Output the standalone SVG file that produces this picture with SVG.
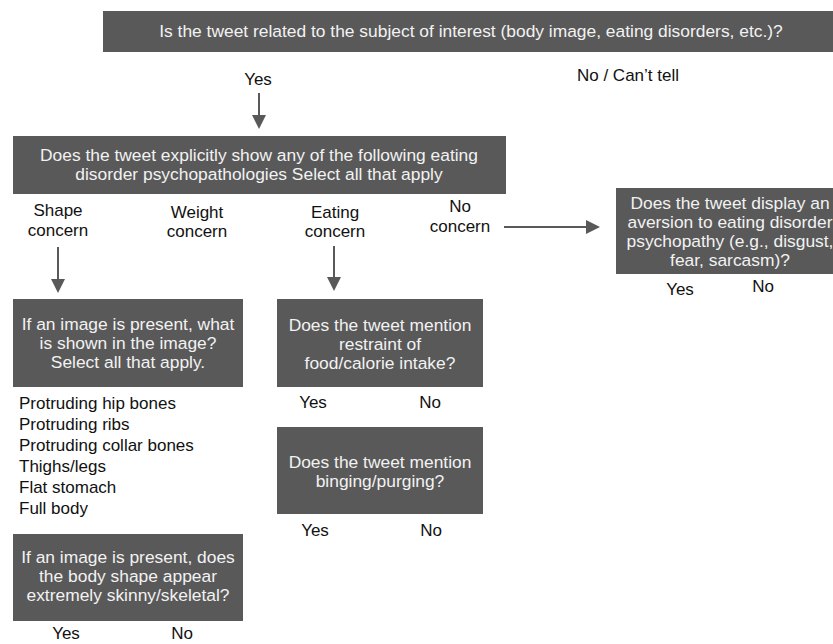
<svg xmlns="http://www.w3.org/2000/svg" width="833" height="644" viewBox="0 0 833 644">
<style>
.box{fill:#595959}
.bt{font-family:"Liberation Sans",Arial,sans-serif;font-size:17.4px;fill:#f2f2f2;text-anchor:middle}
.lt{font-family:"Liberation Sans",Arial,sans-serif;font-size:17px;fill:#111;text-anchor:middle}
.ll{font-family:"Liberation Sans",Arial,sans-serif;font-size:17px;fill:#111}
.ar{stroke:#595959;stroke-width:2;fill:none;marker-end:url(#ah)}
</style>
<defs>
<marker id="ah" markerWidth="7" markerHeight="7" refX="3" refY="3.5" orient="auto" markerUnits="strokeWidth">
<path d="M0,0 L7,3.5 L0,7 Z" fill="#595959"/>
</marker>
</defs>
<rect width="833" height="644" fill="#fff"/>
<g id="q1">
<rect class="box" x="103" y="11" width="740" height="41"/>
<text class="bt" x="471" y="37">Is the tweet related to the subject of interest (body image, eating disorders, etc.)?</text>
<text class="lt" x="258" y="85">Yes</text>
<text class="lt" x="628" y="81">No / Can’t tell</text>
</g>
<g id="q2">
<rect class="box" x="13" y="136" width="493" height="58"/>
<text class="bt" x="259" y="161">Does the tweet explicitly show any of the following eating</text>
<text class="bt" x="259" y="180">disorder psychopathologies Select all that apply</text>
<text class="lt" x="58" y="216">Shape</text>
<text class="lt" x="58" y="236">concern</text>
<text class="lt" x="197" y="218">Weight</text>
<text class="lt" x="197" y="237">concern</text>
<text class="lt" x="335" y="218">Eating</text>
<text class="lt" x="335" y="237">concern</text>
<text class="lt" x="460" y="212">No</text>
<text class="lt" x="460" y="232">concern</text>
</g>
<g id="q3">
<rect class="box" x="616" y="188" width="230" height="86"/>
<text class="bt" x="730" y="209">Does the tweet display an</text>
<text class="bt" x="730" y="228">aversion to eating disorder</text>
<text class="bt" x="730" y="247">psychopathy (e.g., disgust,</text>
<text class="bt" x="730" y="266">fear, sarcasm)?</text>
<text class="lt" x="680" y="295">Yes</text>
<text class="lt" x="763" y="292">No</text>
</g>
<g id="q4">
<rect class="box" x="13" y="299" width="230" height="88"/>
<text class="bt" x="128" y="330">If an image is present, what</text>
<text class="bt" x="128" y="349">is shown in the image?</text>
<text class="bt" x="128" y="368">Select all that apply.</text>
<text class="ll" x="19" y="409">Protruding hip bones</text>
<text class="ll" x="19" y="430">Protruding ribs</text>
<text class="ll" x="19" y="451">Protruding collar bones</text>
<text class="ll" x="19" y="472">Thighs/legs</text>
<text class="ll" x="19" y="493">Flat stomach</text>
<text class="ll" x="19" y="514">Full body</text>
</g>
<g id="q5">
<rect class="box" x="13" y="534" width="230" height="87"/>
<text class="bt" x="128" y="563">If an image is present, does</text>
<text class="bt" x="128" y="582">the body shape appear</text>
<text class="bt" x="128" y="601">extremely skinny/skeletal?</text>
<text class="lt" x="66" y="639">Yes</text>
<text class="lt" x="182" y="639">No</text>
</g>
<g id="q6">
<rect class="box" x="277" y="299" width="206" height="88"/>
<text class="bt" x="380" y="331">Does the tweet mention</text>
<text class="bt" x="380" y="350">restraint of</text>
<text class="bt" x="380" y="369">food/calorie intake?</text>
<text class="lt" x="313" y="408">Yes</text>
<text class="lt" x="430" y="408">No</text>
</g>
<g id="q7">
<rect class="box" x="277" y="427" width="206" height="87"/>
<text class="bt" x="380" y="468">Does the tweet mention</text>
<text class="bt" x="380" y="487">binging/purging?</text>
<text class="lt" x="315" y="536">Yes</text>
<text class="lt" x="431" y="536">No</text>
</g>
<g id="connectors">
<line class="ar" x1="259" y1="93" x2="259" y2="121"/>
<line class="ar" x1="58" y1="247" x2="58" y2="285"/>
<line class="ar" x1="334" y1="246" x2="334" y2="283"/>
<line class="ar" x1="504" y1="227" x2="592" y2="227"/>
</g>
</svg>
